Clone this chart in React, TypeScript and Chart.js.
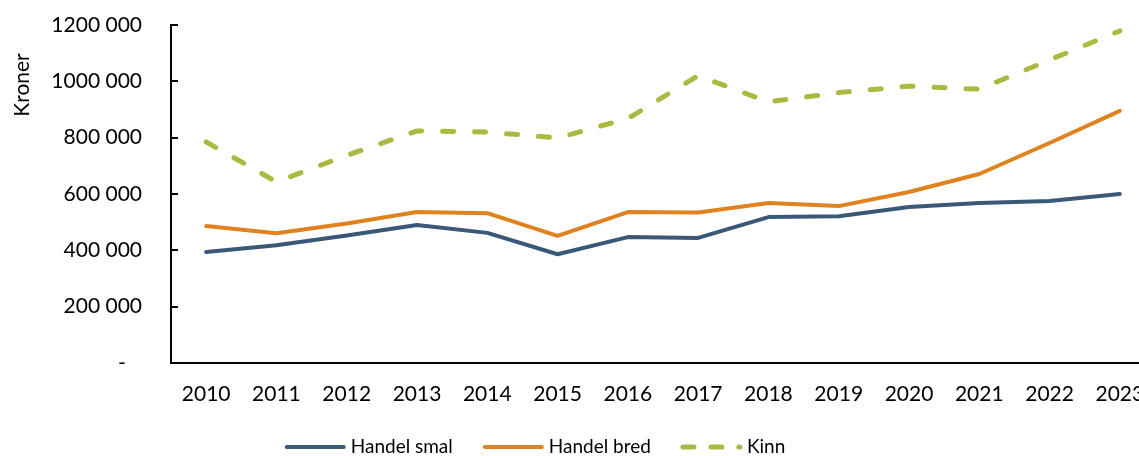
import { useEffect, useRef } from 'react';
import { Chart, registerables } from 'chart.js';

Chart.register(...registerables);

const years = ['2010', '2011', '2012', '2013', '2014', '2015', '2016', '2017', '2018', '2019', '2020', '2021', '2022', '2023'];
const handelSmal = [394000, 418000, 453000, 490000, 462000, 386000, 447000, 444000, 518000, 521000, 554000, 568000, 575000, 600000];
const handelBred = [486000, 461000, 495000, 536000, 532000, 451000, 536000, 534000, 568000, 557000, 607000, 671000, 781000, 895000];
const kinn = [785000, 643000, 737000, 824000, 820000, 799000, 868000, 1020000, 927000, 960000, 983000, 972000, 1076000, 1179000];
const seriesNames = ['Handel smal', 'Handel bred', 'Kinn'];
const yMin = 0;
const yMax = 1200000;
const yStep = 200000;
const yTitle = 'Kroner';

const FONT = 'Lato, "Liberation Sans", sans-serif';
const FONT_SIZE = 21;
const LEGEND_FONT_SIZE = 19;
const COLORS = ['#3A5878', '#DF821F', '#ABB941'];

function formatTick(v: number): string {
  if (v === 0) return '-   ';
  const thousands = Math.floor(v / 1000);
  const rest = String(v % 1000).padStart(3, '0');
  return `${thousands} ${rest}`;
}

const extrasPlugin = {
  id: 'extras',
  afterDraw(chart: any) {
    const ctx = chart.ctx as CanvasRenderingContext2D;
    const area = chart.chartArea;
    const yScale = chart.scales.y;
    ctx.save();
    // inward y-axis tick marks
    ctx.strokeStyle = '#000';
    ctx.lineWidth = 2;
    yScale.ticks.forEach((t: any) => {
      const py = Math.round(yScale.getPixelForValue(t.value));
      ctx.beginPath();
      ctx.moveTo(area.left, py);
      ctx.lineTo(area.left + 7, py);
      ctx.stroke();
    });
    // y-axis title
    ctx.fillStyle = '#000';
    ctx.font = `${FONT_SIZE}px ${FONT}`;
    ctx.textAlign = 'center';
    ctx.textBaseline = 'middle';
    ctx.translate(22, area.top + 60);
    ctx.rotate(-Math.PI / 2);
    ctx.fillText(yTitle, 0, 0);
    ctx.restore();

    // legend
    ctx.save();
    ctx.font = `${LEGEND_FONT_SIZE}px ${FONT}`;
    const items = chart.data.datasets.map((ds: any) => ({
      label: ds.label,
      color: ds.borderColor,
      dash: ds.borderDash ? [11, 17] : [],
      width: ds.borderWidth,
    }));
    const sample = 60;
    const gapText = 6;
    const gapItem = 30;
    const widths = items.map((it: any) => sample + gapText + ctx.measureText(it.label).width);
    const total = widths.reduce((a: number, b: number) => a + b, 0) + gapItem * (items.length - 1);
    let x = 535 - total / 2;
    const y = 447;
    items.forEach((it: any, i: number) => {
      ctx.beginPath();
      ctx.strokeStyle = it.color;
      ctx.lineWidth = it.width;
      ctx.lineCap = 'round';
      ctx.setLineDash(it.dash);
      ctx.moveTo(x + 2, y);
      ctx.lineTo(x + sample - 1, y);
      ctx.stroke();
      ctx.setLineDash([]);
      ctx.fillStyle = '#000';
      ctx.textAlign = 'left';
      ctx.textBaseline = 'middle';
      ctx.fillText(it.label, x + sample + gapText, y);
      x += widths[i] + gapItem;
    });
    ctx.restore();
  },
};

export default function App() {
  const canvasRef = useRef<HTMLCanvasElement | null>(null);

  useEffect(() => {
    if (!canvasRef.current) return;
    const chart = new Chart(canvasRef.current, {
      type: 'line',
      data: {
        labels: years,
        datasets: [
          {
            label: seriesNames[0],
            data: handelSmal,
            borderColor: COLORS[0],
            backgroundColor: COLORS[0],
            borderWidth: 4,
            pointRadius: 0,
            tension: 0,
            borderCapStyle: 'round',
            borderJoinStyle: 'round',
          },
          {
            label: seriesNames[1],
            data: handelBred,
            borderColor: COLORS[1],
            backgroundColor: COLORS[1],
            borderWidth: 4,
            pointRadius: 0,
            tension: 0,
            borderCapStyle: 'round',
            borderJoinStyle: 'round',
          },
          {
            label: seriesNames[2],
            data: kinn,
            borderColor: COLORS[2],
            backgroundColor: COLORS[2],
            borderWidth: 5,
            borderDash: [11, 21],
            pointRadius: 0,
            tension: 0,
            borderCapStyle: 'round',
            borderJoinStyle: 'round',
          },
        ],
      },
      options: {
        responsive: false,
        animation: false,
        layout: { padding: { top: 25, right: 15, bottom: 43, left: 0 } },
        plugins: {
          legend: { display: false },
          tooltip: { enabled: false },
        },
        scales: {
          x: {
            offset: true,
            grid: { display: false, drawTicks: false },
            border: { display: true, color: '#000', width: 2 },
            ticks: {
              color: '#000',
              font: { family: FONT, size: FONT_SIZE },
              padding: 19,
              maxRotation: 0,
              autoSkip: false,
            },
            afterFit: (scale: any) => {
              scale.height = 50;
            },
          },
          y: {
            min: yMin,
            max: yMax,
            grid: { display: false, drawTicks: false },
            border: { display: true, color: '#000', width: 2 },
            ticks: {
              stepSize: yStep,
              color: '#000',
              font: { family: FONT, size: FONT_SIZE },
              padding: 29,
              callback: (v: any) => formatTick(Number(v)),
            },
            afterFit: (scale: any) => {
              scale.width = 171;
              scale.paddingTop = 0;
              scale.paddingBottom = 0;
            },
          },
        },
      },
      plugins: [extrasPlugin],
    });
    return () => chart.destroy();
  }, []);

  return (
    <div style={{ position: 'absolute', left: 0, top: 0, width: 1139, height: 456, overflow: 'hidden', background: '#fff' }}>
      <canvas ref={canvasRef} width={1170} height={456} style={{ display: 'block' }} />
    </div>
  );
}
